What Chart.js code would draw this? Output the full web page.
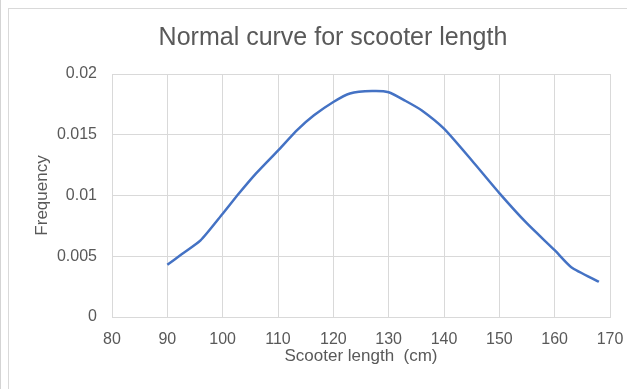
<!DOCTYPE html>
<html>
<head>
<meta charset="utf-8">
<title>Normal curve for scooter length</title>
<script src="https://cdn.jsdelivr.net/npm/chart.js@4"></script>
<style>
  body { margin: 0; background: #fff; overflow: hidden; }
  #wrap { position: relative; width: 627px; height: 389px; }
  #edge { position: absolute; left: 0; top: 0; width: 1px; height: 389px; background: #d4d4d4; }
  #frame { position: absolute; left: 8px; top: 8px; width: 700px; height: 500px; border: 1px solid #d9d9d9; }
  canvas { position: absolute; left: 0; top: 0; }
</style>
</head>
<body>
<div id="wrap">
  <div id="edge"></div>
  <div id="frame"></div>
  <canvas id="chart" width="627" height="389"></canvas>
</div>
<script>
// values
var lengths = [90, 92.4, 96, 100, 103, 106, 110, 113.5, 116.5, 120, 123, 127, 130, 133, 136, 140, 145, 150, 155, 160, 163, 168];
var frequency = [0.0043, 0.0051, 0.0063, 0.0085, 0.0102, 0.0118, 0.0137, 0.0154, 0.0166, 0.0177, 0.0184, 0.0186, 0.0185, 0.0178, 0.0170, 0.0155, 0.0129, 0.0102, 0.0077, 0.0055, 0.0041, 0.0029];
var xTicks = [80, 90, 100, 110, 120, 130, 140, 150, 160, 170];
var yTicks = [0, 0.005, 0.01, 0.015, 0.02];

var chartTitle = 'Normal curve for scooter length';
var xTitle = 'Scooter length  (cm)';
var yTitle = 'Frequency';

var textColor = '#595959';
var gridColor = '#d9d9d9';
var fontFamily = '"Liberation Sans", Arial, sans-serif';

var points = [];
for (var i = 0; i < lengths.length; i++) {
    points.push({ x: lengths[i], y: frequency[i] });
}

new Chart(document.getElementById('chart'), {
    type: 'scatter',
    data: {
        datasets: [{
            data: points,
            showLine: true,
            borderColor: '#4472c4',
            borderWidth: 2.5,
            pointRadius: 0,
            tension: 0.2,
            fill: false
        }]
    },
    options: {
        responsive: false,
        animation: false,
        // left padding moves the centred title to where Excel put it
        layout: { padding: { left: 56, right: 17, top: 0, bottom: 0 } },
        plugins: {
            legend: { display: false },
            tooltip: { enabled: false },
            title: {
                display: true,
                text: chartTitle,
                color: textColor,
                font: { family: fontFamily, size: 25, weight: 'normal' },
                padding: { top: 23, bottom: 21 }
            }
        },
        scales: {
            x: {
                type: 'linear',
                min: xTicks[0],
                max: xTicks[xTicks.length - 1],
                afterBuildTicks: function (scale) {
                    scale.ticks = xTicks.map(function (v) { return { value: v }; });
                },
                afterFit: function (scale) {
                    scale.height = 72;
                    scale.paddingLeft = 0;
                    scale.paddingRight = 0;
                },
                grid: { color: gridColor, lineWidth: 1, drawTicks: false },
                border: { color: gridColor },
                ticks: {
                    color: textColor,
                    padding: 13,
                    maxRotation: 0,
                    font: { family: fontFamily, size: 16 }
                },
                title: {
                    display: true,
                    text: xTitle,
                    color: textColor,
                    font: { family: fontFamily, size: 17 },
                    padding: { top: 22, bottom: 22 }
                }
            },
            y: {
                min: yTicks[0],
                max: yTicks[yTicks.length - 1],
                afterBuildTicks: function (scale) {
                    scale.ticks = yTicks.map(function (v) { return { value: v }; });
                },
                afterFit: function (scale) {
                    scale.width = 56;
                    scale.paddingTop = 0;
                    scale.paddingBottom = 0;
                },
                grid: { color: gridColor, lineWidth: 1, drawTicks: false },
                border: { color: gridColor },
                ticks: {
                    color: textColor,
                    padding: 15,
                    font: { family: fontFamily, size: 16 },
                    callback: function (v) { return String(Number(v.toFixed(3))); }
                },
                title: {
                    display: true,
                    text: yTitle,
                    color: textColor,
                    font: { family: fontFamily, size: 17 },
                    // negative so the title sits out in the left margin at x ~ 42
                    padding: { top: -23.7, bottom: 4 }
                }
            }
        }
    }
});
</script>
</body>
</html>
